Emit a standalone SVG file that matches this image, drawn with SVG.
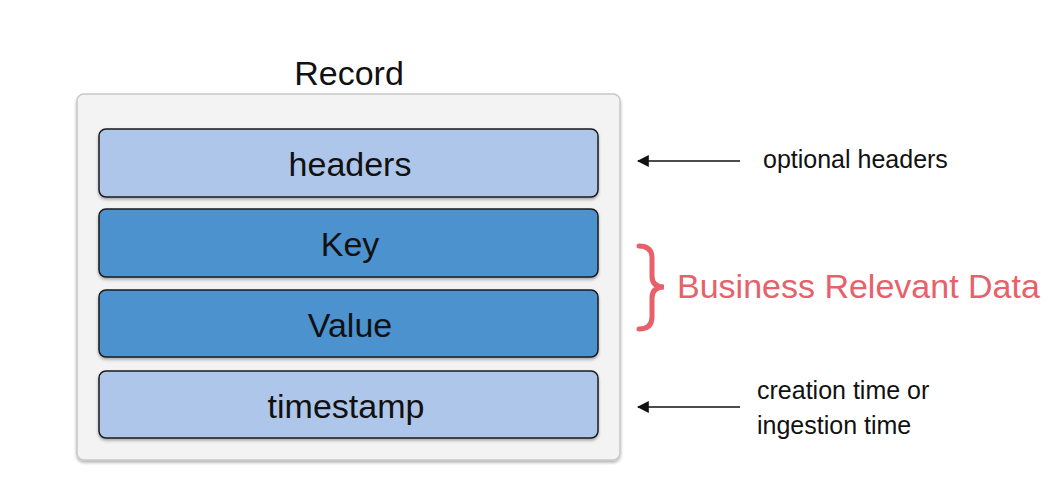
<svg xmlns="http://www.w3.org/2000/svg" width="1062" height="478" viewBox="0 0 1062 478">
<style>
.lbl{font-family:"Liberation Sans",Arial,sans-serif;fill:#111}
.big{font-size:34px;text-anchor:middle}
.small{font-size:25px}
.light{fill:#aec6e9;stroke:#1a1a1a;stroke-width:1.5}
.dark{fill:#4b92cf;stroke:#1a1a1a;stroke-width:1.5}
.conn{stroke:#111;stroke-width:1.5;fill:none}
</style>
<defs>
<marker id="ah" viewBox="0 0 10 10" refX="9" refY="5" markerWidth="12" markerHeight="12" markerUnits="userSpaceOnUse" orient="auto">
<path d="M0,0 L10,5 L0,10 z" fill="#111"/>
</marker>
<filter id="sh" x="-5%" y="-10%" width="110%" height="130%">
<feDropShadow dx="0" dy="2" stdDeviation="1.5" flood-color="#000" flood-opacity="0.3"/>
</filter>
</defs>
<rect width="1062" height="478" fill="#fff"/>
<g id="record">
<rect x="77" y="94" width="543" height="366" rx="7" fill="#f3f3f3" stroke="#c8c8c8" stroke-width="1.5" filter="url(#sh)"/>
<text class="lbl big" x="349" y="85">Record</text>
</g>
<g id="headers">
<rect class="light" x="99" y="129" width="499" height="68" rx="7" filter="url(#sh)"/>
<text class="lbl big" x="350" y="176">headers</text>
</g>
<g id="key">
<rect class="dark" x="99" y="209" width="499" height="68" rx="7" filter="url(#sh)"/>
<text class="lbl big" x="350" y="256">Key</text>
</g>
<g id="value">
<rect class="dark" x="99" y="290" width="499" height="67" rx="7" filter="url(#sh)"/>
<text class="lbl big" x="350" y="337">Value</text>
</g>
<g id="timestamp">
<rect class="light" x="99" y="371" width="499" height="67" rx="7" filter="url(#sh)"/>
<text class="lbl big" x="346" y="418">timestamp</text>
</g>
<g id="connectors">
<line class="conn" x1="740" y1="161" x2="638" y2="161" marker-end="url(#ah)"/>
<line class="conn" x1="740" y1="407" x2="638" y2="407" marker-end="url(#ah)"/>
</g>
<g id="optional-headers">
<text class="lbl small" x="763" y="168">optional headers</text>
</g>
<g id="business">
<path d="M639,246 Q652,246 652,258 L652,276 Q652,287 664,287 Q652,287 652,298 L652,317 Q652,329 639,329" fill="none" stroke="#e8606a" stroke-width="5" stroke-linecap="round"/>
<text x="677" y="298" font-family="Liberation Sans,Arial,sans-serif" font-size="34" fill="#e8606a">Business Relevant Data</text>
</g>
<g id="creation">
<text class="lbl small" x="757" y="399">creation time or</text>
<text class="lbl small" x="757" y="434">ingestion time</text>
</g>
</svg>
